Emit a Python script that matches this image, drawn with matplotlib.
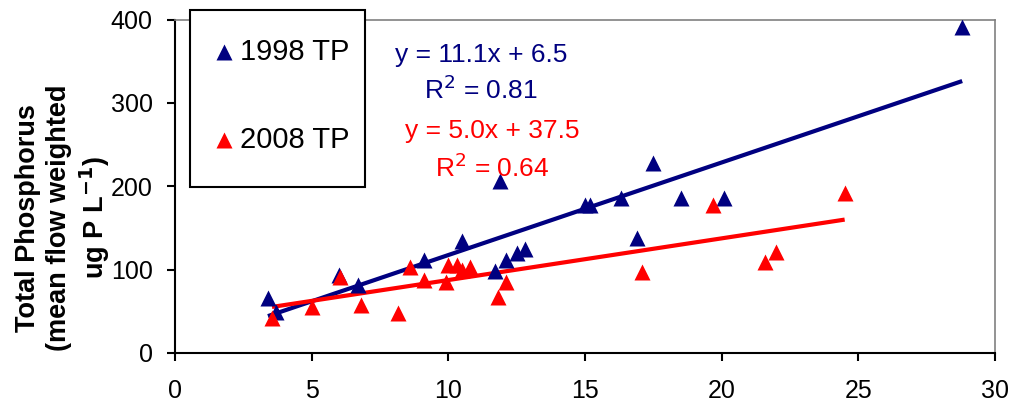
import matplotlib.pyplot as plt
from matplotlib.patches import Rectangle
from matplotlib.lines import Line2D
import numpy as np

plt.rcParams['font.family'] = ['Liberation Sans', 'DejaVu Sans']

# 1998 TP values
x98 = [3.4, 3.7, 6.0, 6.7, 9.1, 10.5, 11.9, 11.7, 12.1, 12.5, 12.8,
       15.0, 15.2, 16.3, 17.5, 18.5, 20.1, 16.9, 28.8]
y98 = [66, 49, 94, 82, 111, 134, 206, 98, 112, 120, 125,
       178, 178, 186, 228, 186, 186, 138, 391]

# 2008 TP values
x08 = [3.55, 5.0, 6.05, 6.8, 8.15, 8.6, 9.1, 9.9, 10.0, 10.3, 10.5,
       10.8, 11.8, 12.1, 19.7, 17.1, 21.6, 22.0, 24.5]
y08 = [42, 55, 91, 58, 48, 103, 88, 85, 105, 106, 100,
       103, 67, 85, 177, 97, 109, 121, 192]

# trendline equations shown on the chart
slope98, icpt98 = 11.1, 6.5
slope08, icpt08 = 5.0, 37.5

navy = '#000080'
red = '#FF0000'

W, H = 1009, 405
fig = plt.figure(figsize=(W/100, H/100), dpi=100)
ax = fig.add_axes([175/W, 1 - 353/H, (995 - 175)/W, (353 - 19.5)/H])

# trendlines over the range of each series
xs98 = np.array([min(x98), max(x98)])
xs08 = np.array([min(x08), max(x08)])
ax.plot(xs98, slope98*xs98 + icpt98, color=navy, lw=3, solid_capstyle='butt', zorder=2)
ax.plot(xs08, slope08*xs08 + icpt08, color=red, lw=3, solid_capstyle='butt', zorder=2)

ax.plot(x98, y98, '^', color=navy, ms=12, mec='none', zorder=3)
ax.plot(x08, y08, '^', color=red, ms=12, mec='none', zorder=3)

ax.set_xlim(0, 30)
ax.set_ylim(0, 400)
ax.set_xticks(range(0, 31, 5))
ax.set_yticks(range(0, 401, 100))
ax.tick_params(labelsize=18, direction='out', length=6, width=1.5)
ax.tick_params(axis='x', pad=13)
ax.tick_params(axis='y', pad=10)

for s in ['left', 'bottom']:
    ax.spines[s].set_color('black')
    ax.spines[s].set_linewidth(1.5)
for s in ['top', 'right']:
    ax.spines[s].set_color('#808080')
    ax.spines[s].set_linewidth(1.2)

ax.set_ylabel('Total Phosphorus\n(mean flow weighted\nug P L$^{\\mathbf{-1}}$)',
              fontsize=19.5, fontweight='bold', linespacing=1.22)
ax.yaxis.set_label_coords(-0.077, 0.405)

# trendline labels
ax.text(11.2, 358, 'y = 11.1x + 6.5', color=navy, fontsize=19, ha='center', va='center')
ax.text(11.2, 316, 'R$^2$ = 0.81', color=navy, fontsize=19, ha='center', va='center')
ax.text(11.6, 266, 'y = 5.0x + 37.5', color=red, fontsize=19, ha='center', va='center')
ax.text(11.6, 222, 'R$^2$ = 0.64', color=red, fontsize=19, ha='center', va='center')

# legend box (drawn by hand to match the padding of the original)
fig.add_artist(Rectangle((190/W, 1 - 187/H), 175/W, 177/H, transform=fig.transFigure,
                         facecolor='white', edgecolor='black', lw=1.5, zorder=5))
for label, col, yp in [('1998 TP', navy, 52), ('2008 TP', red, 140)]:
    fig.add_artist(Line2D([224/W], [1 - yp/H], marker='^', color=col, ms=12, mec='none',
                          linestyle='none', transform=fig.transFigure, zorder=6))
    fig.text(240/W, 1 - yp/H, label, fontsize=21, ha='left', va='center', zorder=6)

fig.savefig('out.png', dpi=100)
